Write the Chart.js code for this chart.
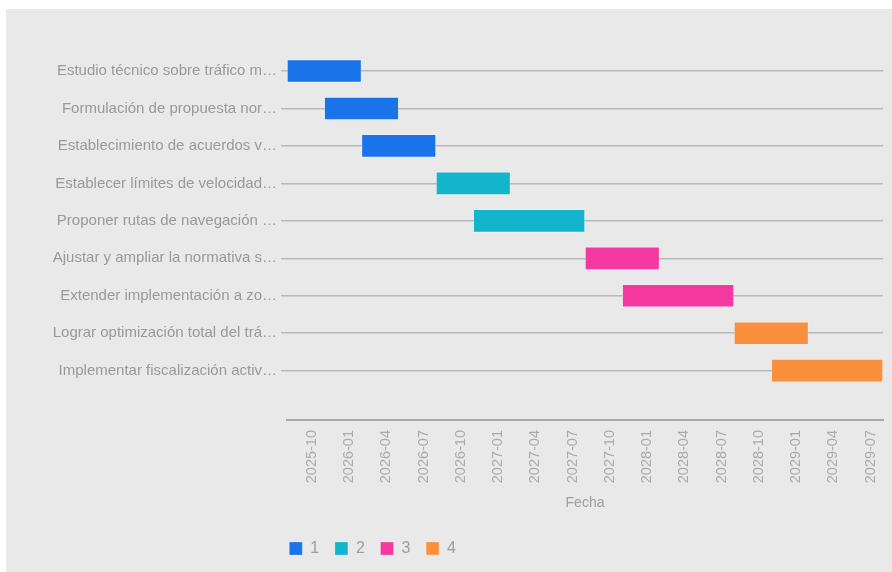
<!DOCTYPE html>
<html>
<head>
<meta charset="utf-8">
<style>
  body { margin: 0; background: #ffffff; }
  #marco { position: absolute; left: 6px; top: 9px; width: 886px; height: 563px; background: #e9e9e9; }
</style>
</head>
<body>
<div id="marco"><canvas id="gantt" width="886" height="563"></canvas></div>

<script src="https://cdn.jsdelivr.net/npm/chart.js"></script>
<script>
    // datos del cronograma
    var tareas = [
        'Estudio técnico sobre tráfico m…',
        'Formulación de propuesta nor…',
        'Establecimiento de acuerdos v…',
        'Establecer límites de velocidad…',
        'Proponer rutas de navegación …',
        'Ajustar y ampliar la normativa s…',
        'Extender implementación a zo…',
        'Lograr optimización total del trá…',
        'Implementar fiscalización activ…'
    ]
    var grupos  = ['1', '1', '1', '2', '2', '3', '3', '4', '4']
    var inicios = ['2025-08', '2025-11', '2026-02', '2026-08', '2026-11', '2027-08', '2027-11', '2028-08', '2028-11']
    var fines   = ['2026-02', '2026-05', '2026-08', '2027-02', '2027-08', '2028-02', '2028-08', '2029-02', '2029-08']
    var series  = ['1', '2', '3', '4']
    var colores = ['#1a73e8', '#12b5cb', '#f538a0', '#fa903e']
    var fechasEje = ['2025-10', '2026-01', '2026-04', '2026-07', '2026-10', '2027-01', '2027-04', '2027-07',
                     '2027-10', '2028-01', '2028-04', '2028-07', '2028-10', '2029-01', '2029-04', '2029-07']
    var rangoEje = ['2025-08', '2029-08']

    // 'AAAA-MM' -> numero de mes
    function mes(s) {
        var p = s.split('-')
        return parseInt(p[0]) * 12 + parseInt(p[1]) - 1
    }
    function etiqueta(v) {
        var a = Math.floor(v / 12)
        var m = v % 12 + 1
        return a + '-' + (m < 10 ? '0' + m : m)
    }

    var datasets = series.map(function (g, k) {
        var puntos = []
        tareas.forEach(function (t, i) {
            if (grupos[i] === g) puntos.push({ x: [mes(inicios[i]), mes(fines[i])], y: i })
        })
        return {
            label: g,
            data: puntos,
            backgroundColor: colores[k],
            borderColor: 'rgba(255,255,255,0.25)',
            borderWidth: 1,
            borderSkipped: false,
            barThickness: 23,
            grouped: false
        }
    })

    // la leyenda va debajo, alineada con el area del grafico
    var moverLeyenda = {
        id: 'moverLeyenda',
        afterLayout: function (chart) {
            chart.legend.left = 267.6
            chart.legend.top = 515.8
        }
    }

    Chart.defaults.font.family = '"Liberation Sans", Arial, sans-serif'

    var ctx = document.getElementById('gantt')
    var gantt = new Chart(ctx, {
        type: 'bar',
        data: { datasets: datasets },
        options: {
            indexAxis: 'y',
            responsive: false,
            animation: false,
            layout: { padding: { top: 43.3, right: 9, left: 0, bottom: 0 } },
            scales: {
                x: {
                    type: 'linear',
                    min: mes(rangoEje[0]),
                    max: mes(rangoEje[1]),
                    afterBuildTicks: function (s) {
                        s.ticks = fechasEje.map(function (f) { return { value: mes(f) } })
                    },
                    afterFit: function (s) {
                        s.height = 152 - s.chart.legend.height
                        s.paddingLeft = 0
                        s.paddingRight = 0
                    },
                    grid: { display: false, drawTicks: false },
                    border: { display: true, color: '#a9a9a9', width: 2 },
                    ticks: {
                        autoSkip: false, maxRotation: 90, minRotation: 90, padding: 10,
                        color: '#aaaaaa', font: { size: 14.5 },
                        callback: function (v) { return etiqueta(v) }
                    },
                    title: {
                        display: true, text: 'Fecha', color: '#9e9e9e',
                        font: { size: 14 }, padding: { top: 0, bottom: 19 }
                    }
                },
                y: {
                    type: 'linear',
                    reverse: true,
                    offset: false,
                    min: -0.5,
                    max: 9.317,
                    afterBuildTicks: function (s) {
                        s.ticks = tareas.map(function (t, i) { return { value: i } })
                    },
                    afterFit: function (s) { s.width = 281 },
                    grid: { offset: false, color: '#b9b9b9', lineWidth: 1.5, tickLength: 6, drawTicks: true },
                    border: { display: false },
                    ticks: {
                        padding: 4, color: '#999999', font: { size: 15 },
                        callback: function (v) { return tareas[v] }
                    }
                }
            },
            plugins: {
                legend: {
                    position: 'bottom',
                    align: 'start',
                    labels: {
                        boxWidth: 13, boxHeight: 13, padding: 15.7,
                        color: '#9e9e9e', font: { size: 16 }
                    }
                },
                tooltip: { enabled: false }
            }
        },
        plugins: [moverLeyenda]
    })
</script>
</body>
</html>
